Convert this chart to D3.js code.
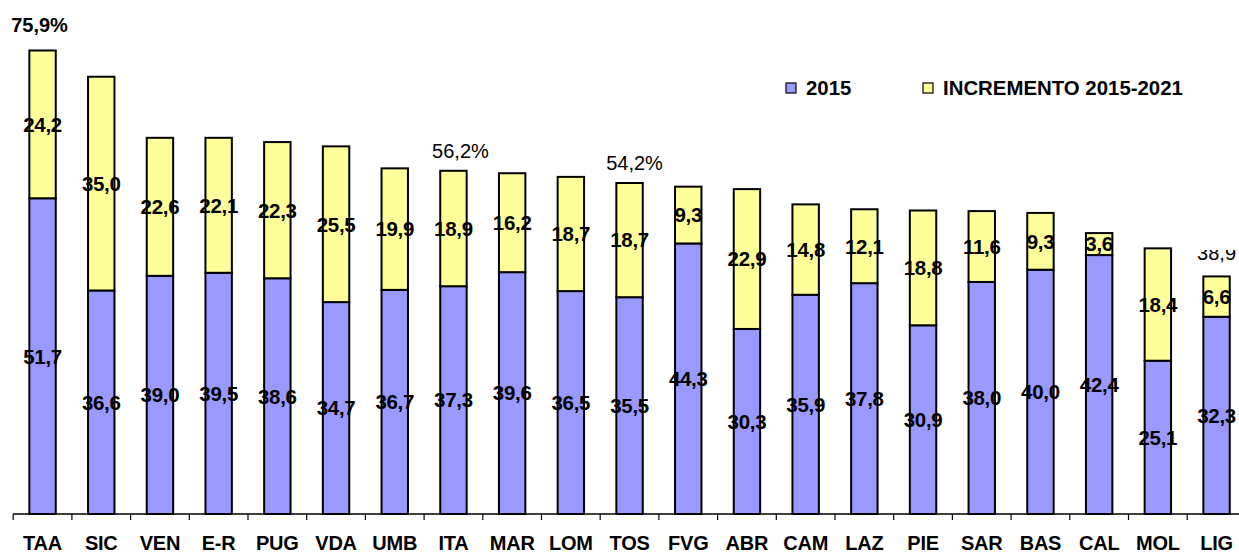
<!DOCTYPE html>
<html>
<head>
<meta charset="utf-8">
<script src="https://cdn.jsdelivr.net/npm/d3@7"></script>
<style>
  body { margin: 0; background: #fff; }
  svg { display: block; font-family: "Liberation Sans", Arial, sans-serif; }
  .seg-label { font-size: 20.5px; font-weight: bold; letter-spacing: -0.3px; }
  .tot-label { font-size: 20px; }
  .cat-label { font-size: 20px; font-weight: bold; letter-spacing: -0.2px; }
  .legend-text { font-size: 20.4px; font-weight: bold; }
</style>
</head>
<body>
<div id="chart"></div>
<script>
const categories = ['TAA','SIC','VEN','E-R','PUG','VDA','UMB','ITA','MAR','LOM','TOS',
  'FVG','ABR','CAM','LAZ','PIE','SAR','BAS','CAL','MOL','LIG'];
const values2015 = [51.7,36.6,39.0,39.5,38.6,34.7,36.7,37.3,39.6,36.5,35.5,
  44.3,30.3,35.9,37.8,30.9,38.0,40.0,42.4,25.1,32.3];
const increment = [24.2,35.0,22.6,22.1,22.3,25.5,19.9,18.9,16.2,18.7,18.7,
  9.3,22.9,14.8,12.1,18.8,11.6,9.3,3.6,18.4,6.6];
// total labels shown only on a few bars
const totalLabels = {TAA: '75,9%', ITA: '56,2%', TOS: '54,2%', LIG: '38,9'};
const seriesNames = ['2015', 'INCREMENTO 2015-2021'];
const colors = ['#9999ff', '#ffff99'];

const width = 1239, height = 554;
const baseline = 514;

const svg = d3.select('#chart').append('svg')
  .attr('width', width)
  .attr('height', height);

const xScale = d3.scaleBand()
  .domain(categories)
  .range([13.2, 13.2 + 21 * 58.7])
  .paddingInner(0.55)
  .paddingOuter(0.275);

const yScale = d3.scaleLinear()
  .domain([0, 80])
  .range([baseline, baseline - 80 * 6.107]);

const fmt = v => v.toFixed(1).replace('.', ',');

const data = categories.map((c, i) => ({cat: c, v: [values2015[i], increment[i]]}));

const g = svg.append('g');

// bars
data.forEach(d => {
  let y0 = 0;
  d.v.forEach((v, k) => {
    const top = yScale(y0 + v), bot = yScale(y0);
    g.append('rect')
      .attr('x', xScale(d.cat))
      .attr('y', top)
      .attr('width', xScale.bandwidth())
      .attr('height', bot - top)
      .attr('fill', colors[k])
      .attr('stroke', '#000')
      .attr('stroke-width', 2);
    y0 += v;
  });
});

// segment labels
data.forEach(d => {
  let y0 = 0;
  d.v.forEach(v => {
    g.append('text')
      .attr('class', 'seg-label')
      .attr('x', xScale(d.cat) + xScale.bandwidth() / 2)
      .attr('y', yScale(y0 + v / 2))
      .attr('dy', '0.36em')
      .attr('text-anchor', 'middle')
      .text(fmt(v));
    y0 += v;
  });
});

// total labels
svg.append('clipPath').attr('id', 'lig-clip')
  .append('rect').attr('x', 1180).attr('y', 250).attr('width', 80).attr('height', 40);

data.filter(d => totalLabels[d.cat]).forEach(d => {
  const t = svg.append('text')
    .attr('class', 'tot-label')
    .attr('x', xScale(d.cat) + xScale.bandwidth() / 2)
    .attr('y', yScale(d.v[0] + d.v[1]) - 13)
    .attr('text-anchor', 'middle')
    .style('font-weight', d.cat === 'TAA' ? 'bold' : 'normal')
    .text(totalLabels[d.cat]);
  if (d.cat === 'TAA') t.attr('y', 32).attr('dx', -3);
  if (d.cat === 'ITA') t.attr('dx', 7);
  if (d.cat === 'TOS') t.attr('dx', 5);
  if (d.cat === 'LIG') t.attr('y', 260).attr('clip-path', 'url(#lig-clip)');
});

// x axis
const xAxis = d3.axisBottom(xScale).tickSize(0).tickPadding(22).tickSizeOuter(0);
const xAxisG = svg.append('g')
  .attr('transform', `translate(0,${baseline})`)
  .call(xAxis);
xAxisG.select('.domain').attr('stroke', '#000').attr('stroke-width', 1.5)
  .attr('d', `M13.2,0H${width}`);
xAxisG.selectAll('.tick text')
  .attr('class', 'cat-label')
  .attr('fill', '#000')
  .attr('y', 36)
  .attr('dy', 0);

const step = xScale.step();
const boundaries = categories.map(c => xScale(c) - step * xScale.paddingInner() / 2);
xAxisG.selectAll('.bound')
  .data(boundaries)
  .enter().append('line')
  .attr('class', 'bound')
  .attr('x1', d => d).attr('x2', d => d)
  .attr('y1', 0).attr('y2', 6)
  .attr('stroke', '#000')
  .attr('stroke-width', 1.2);

// legend
const legendX = [786, 923];
const legend = svg.append('g');
seriesNames.forEach((name, k) => {
  legend.append('rect')
    .attr('x', legendX[k]).attr('y', 83)
    .attr('width', 10).attr('height', 10)
    .attr('fill', colors[k])
    .attr('stroke', '#000').attr('stroke-width', 1.2);
  legend.append('text')
    .attr('class', 'legend-text')
    .attr('x', legendX[k] + 20)
    .attr('y', 95)
    .text(name);
});
</script>
</body>
</html>
